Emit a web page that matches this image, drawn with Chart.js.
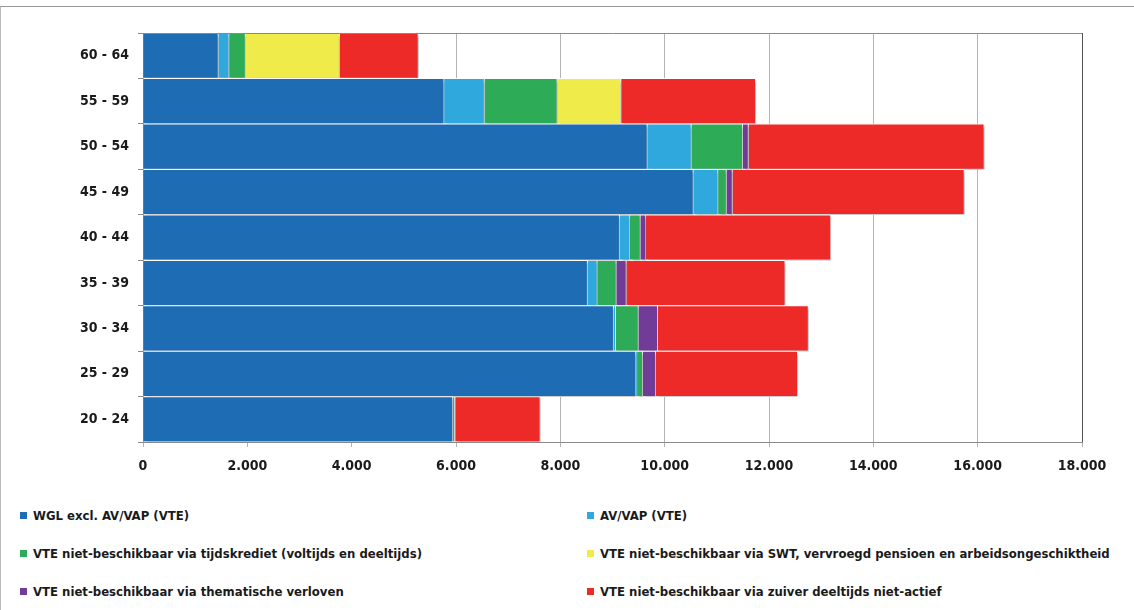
<!DOCTYPE html>
<html>
<head>
<meta charset="utf-8">
<script src="https://cdn.jsdelivr.net/npm/chart.js@4"></script>
<style>
  html, body { margin: 0; padding: 0; background: #fff; }
  #frame { position: relative; width: 1134px; height: 610px; box-sizing: border-box; border-top: 1px solid #999; border-left: 1px solid #bbb; margin-top: 6px; }
  #wrap { position: absolute; left: 0; top: 0; width: 1132px; height: 470px; }
  #legend { position: absolute; left: 0; top: 491px; width: 1134px; font-family: 'DejaVu Sans Condensed', sans-serif; font-weight: bold; font-size: 13px; color: #1a1a1a; }
  .item { position: absolute; white-space: nowrap; }
  .box { display: inline-block; width: 7px; height: 7px; margin-right: 6px; vertical-align: 1px; }
</style>
</head>
<body>
<div id="frame">
  <div id="wrap"><canvas id="chart"></canvas></div>
  <div id="legend"></div>
</div>
<script>
// 年龄组
const ageGroups = ['60 - 64', '55 - 59', '50 - 54', '45 - 49', '40 - 44', '35 - 39', '30 - 34', '25 - 29', '20 - 24'];

// 各系列数值（VTE）
const wglValues = [1445, 5772, 9668, 10550, 9136, 8522, 9021, 9450, 5940];
const avVapValues = [206, 773, 844, 474, 198, 186, 40, 20, 30];
const tijdskredietValues = [313, 1395, 985, 160, 200, 365, 435, 110, 10];
const swtValues = [1804, 1221, 0, 0, 0, 0, 0, 0, 0];
const verlovenValues = [0, 15, 109, 115, 107, 192, 370, 250, 5];
const deeltijdsValues = [1510, 2570, 4520, 4446, 3545, 3045, 2890, 2720, 1630];

// X轴刻度
const xTicks = [0, 2000, 4000, 6000, 8000, 10000, 12000, 14000, 16000, 18000];

const seriesLabels = [
  'WGL excl. AV/VAP (VTE)',
  'AV/VAP (VTE)',
  'VTE niet-beschikbaar via tijdskrediet (voltijds en deeltijds)',
  'VTE niet-beschikbaar via SWT, vervroegd pensioen en arbeidsongeschiktheid',
  'VTE niet-beschikbaar via thematische verloven',
  'VTE niet-beschikbaar via zuiver deeltijds niet-actief'
];
const seriesData = [wglValues, avVapValues, tijdskredietValues, swtValues, verlovenValues, deeltijdsValues];
const seriesColors = ['#1e6cb3', '#2ea8dd', '#2eab57', '#eeeb4a', '#703c98', '#ee2a29'];

function formatNumber(v) {
  return String(v).replace(/\B(?=(\d{3})+(?!\d))/g, '.');
}

// 阴影 + 边框插件
const shadowPlugin = {
  id: 'barShadow',
  beforeDatasetsDraw(chart) {
    const ctx = chart.ctx;
    ctx.save();
    ctx.shadowColor = 'rgba(0,0,0,0.28)';
    ctx.shadowBlur = 3;
    ctx.shadowOffsetX = 2;
    ctx.shadowOffsetY = 2;
  },
  afterDatasetsDraw(chart) {
    chart.ctx.restore();
  },
  afterDraw(chart) {
    const { ctx, chartArea } = chart;
    ctx.save();
    ctx.strokeStyle = '#8a8a8a';
    ctx.lineWidth = 1;
    ctx.beginPath();
    ctx.moveTo(chartArea.left, chartArea.top + 0.5);
    ctx.lineTo(chartArea.right, chartArea.top + 0.5);
    ctx.stroke();
    ctx.strokeStyle = '#555';
    ctx.beginPath();
    ctx.moveTo(chartArea.right + 0.5, chartArea.top);
    ctx.lineTo(chartArea.right + 0.5, chartArea.bottom);
    ctx.stroke();
    ctx.restore();
  }
};

const chart = new Chart(document.getElementById('chart'), {
  type: 'bar',
  data: {
    labels: ageGroups,
    datasets: seriesData.map((values, i) => ({
      label: seriesLabels[i],
      data: values,
      backgroundColor: seriesColors[i],
      borderColor: '#ffffff',
      borderWidth: 1,
      barPercentage: 1,
      categoryPercentage: 1
    }))
  },
  options: {
    indexAxis: 'y',
    responsive: true,
    maintainAspectRatio: false,
    animation: false,
    layout: { padding: { top: 26, right: 51, left: 0, bottom: 0 } },
    plugins: {
      legend: { display: false },
      tooltip: { enabled: false }
    },
    scales: {
      x: {
        stacked: true,
        min: 0,
        max: 18000,
        afterBuildTicks(scale) {
          scale.ticks = xTicks.map(v => ({ value: v }));
        },
        afterFit(scale) { scale.height = 35; },
        grid: { color: '#b4b4b4', lineWidth: 1, tickLength: 5, tickColor: '#b4b4b4' },
        border: { color: '#8a8a8a' },
        ticks: {
          color: '#1a1a1a',
          padding: 11,
          font: { family: "'DejaVu Sans Condensed', sans-serif", size: 14, weight: 'bold' },
          callback: v => formatNumber(v)
        }
      },
      y: {
        stacked: true,
        afterFit(scale) { scale.width = 142; },
        grid: { drawOnChartArea: false, tickLength: 5, color: '#8a8a8a', offset: true },
        border: { color: '#8a8a8a' },
        ticks: {
          color: '#1a1a1a',
          padding: 9,
          font: { family: "'DejaVu Sans Condensed', sans-serif", size: 14, weight: 'bold' }
        }
      }
    }
  },
  plugins: [shadowPlugin]
});

// 自定义两列图例
const legend = document.getElementById('legend');
chart.data.datasets.forEach((ds, i) => {
  const item = document.createElement('div');
  item.className = 'item';
  item.style.left = (i % 2 === 0 ? 19 : 586) + 'px';
  item.style.top = (Math.floor(i / 2) * 38 + 10) + 'px';
  item.innerHTML = `<span class="box" style="background:${ds.backgroundColor}"></span>${ds.label}`;
  legend.appendChild(item);
});
</script>
</body>
</html>
